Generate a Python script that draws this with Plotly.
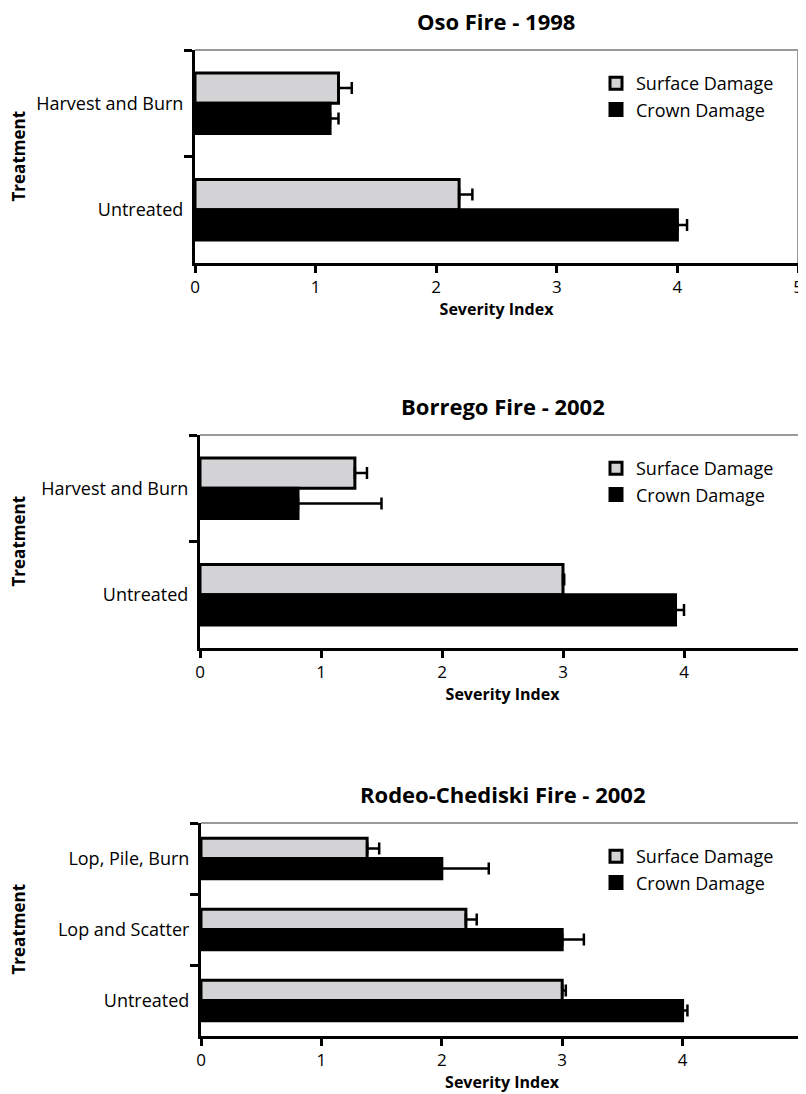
import plotly.graph_objects as go

# Oso Fire - 1998
oso_cats = ["Harvest and Burn", "Untreated"]
oso_surface = [1.19, 2.19]
oso_surface_err = [0.11, 0.11]
oso_crown = [1.12, 4.0]
oso_crown_err = [0.07, 0.08]

# Borrego Fire - 2002
borrego_cats = ["Harvest and Burn", "Untreated"]
borrego_surface = [1.28, 3.0]
borrego_surface_err = [0.1, 0.01]
borrego_crown = [0.81, 3.93]
borrego_crown_err = [0.69, 0.07]

# Rodeo-Chediski Fire - 2002
rodeo_cats = ["Lop, Pile, Burn", "Lop and Scatter", "Untreated"]
rodeo_surface = [1.38, 2.2, 3.0]
rodeo_surface_err = [0.1, 0.09, 0.03]
rodeo_crown = [2.0, 3.0, 4.0]
rodeo_crown_err = [0.39, 0.18, 0.04]

titles = ["Oso Fire - 1998", "Borrego Fire - 2002", "Rodeo-Chediski Fire - 2002"]

# the page body adds an 8px margin, so the figure is a bit smaller and
# all pixel positions below are shifted back by that amount
OFF = 8
W, H = 806 - OFF, 1094 - OFF
FONT = "Open Sans"

# panel boxes in page pixels: left, right, top, bottom
boxes = [(195, 798, 50, 263), (200, 805, 435, 648), (201, 803, 823, 1036)]

panels = [
    (oso_cats, oso_surface, oso_surface_err, oso_crown, oso_crown_err),
    (borrego_cats, borrego_surface, borrego_surface_err, borrego_crown, borrego_crown_err),
    (rodeo_cats, rodeo_surface, rodeo_surface_err, rodeo_crown, rodeo_crown_err),
]


def px(v):
    return (v - OFF) / W


def py(v):
    return 1 - (v - OFF) / H


fig = go.Figure()
layout = {}
annotations = []
shapes = []

for i, ((cats, surf, surf_err, crown, crown_err), box) in enumerate(zip(panels, boxes)):
    n = i + 1
    sfx = "" if n == 1 else str(n)
    xa, ya = "x" + sfx, "y" + sfx
    lg = "legend" + sfx
    left, right, top, bottom = box

    fig.add_trace(go.Bar(
        y=cats, x=surf, orientation="h", name="Surface Damage",
        marker=dict(color="#d3d3d5", line=dict(color="black", width=3)),
        error_x=dict(type="data", array=surf_err, arrayminus=[0] * len(cats),
                     symmetric=False, color="black", thickness=2.5, width=6),
        xaxis=xa, yaxis=ya, legend=lg,
    ))
    fig.add_trace(go.Bar(
        y=cats, x=crown, orientation="h", name="Crown Damage",
        marker=dict(color="black", line=dict(color="black", width=3)),
        error_x=dict(type="data", array=crown_err, arrayminus=[0] * len(cats),
                     symmetric=False, color="black", thickness=2.5, width=6),
        xaxis=xa, yaxis=ya, legend=lg,
    ))

    layout["xaxis" + sfx] = dict(
        domain=[px(left), px(right)], anchor=ya, range=[0, 5], dtick=1,
        automargin=False, ticklabeloverflow="allow",
        showgrid=False, zeroline=False, showline=True, linecolor="black", linewidth=3,
        ticks="outside", ticklen=7, tickwidth=2.5, tickcolor="black",
        tickfont=dict(size=17, color="black"),
        title=dict(text="<b>Severity Index</b>", font=dict(size=16, color="black"), standoff=0),
    )
    layout["yaxis" + sfx] = dict(
        domain=[py(bottom), py(top)], anchor=xa, autorange="reversed",
        type="category", tickson="boundaries", automargin=False,
        showgrid=False, zeroline=False, showline=True, linecolor="black", linewidth=3,
        ticks="outside", ticklen=8, tickwidth=3, tickcolor="black",
        ticklabelstandoff=5,
        tickfont=dict(size=18, color="black"),
    )
    layout[lg] = dict(
        x=px(596), y=py(top + 15), xanchor="left", yanchor="top",
        traceorder="normal", bgcolor="rgba(0,0,0,0)",
        font=dict(size=18, color="black"),
    )

    # grey frame on top and right
    shapes.append(dict(type="line", xref=xa + " domain", yref=ya + " domain",
                       x0=0, x1=1, y0=1, y1=1, line=dict(color="#9a9a9a", width=2)))
    shapes.append(dict(type="line", xref=xa + " domain", yref=ya + " domain",
                       x0=1, x1=1, y0=0, y1=1, line=dict(color="#9a9a9a", width=2)))

    annotations.append(dict(
        text="<b>" + titles[i] + "</b>", xref="paper", yref="paper",
        x=px((left + right) / 2), y=py(top - 29), xanchor="center", yanchor="middle",
        showarrow=False, font=dict(size=22, color="black"),
    ))
    annotations.append(dict(
        text="<b>Treatment</b>", xref="paper", yref="paper", textangle=-90,
        x=px(18), y=py((top + bottom) / 2), xanchor="center", yanchor="middle",
        showarrow=False, font=dict(size=17, color="black"),
    ))

fig.update_layout(
    **layout,
    width=W, height=H,
    margin=dict(l=0, r=0, t=0, b=0),
    barmode="group", bargap=0.43, bargroupgap=0,
    plot_bgcolor="white", paper_bgcolor="white",
    font=dict(family=FONT, color="black"),
    annotations=annotations, shapes=shapes,
)

fig.write_html("out.html")
